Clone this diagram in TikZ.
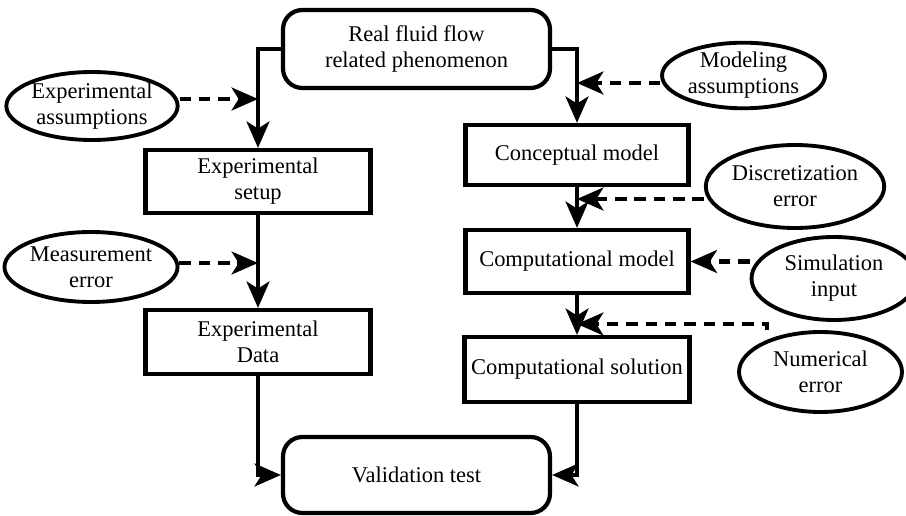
\documentclass[tikz,border=0pt]{standalone}
\usepackage{fontspec}
\setmainfont{Liberation Serif}
\usetikzlibrary{arrows.meta,shapes.geometric}
\tikzset{
  box/.style={draw, line width=2.4pt, align=center, inner sep=0pt},
  rbox/.style={box, rounded corners=11pt},
  oval/.style={ellipse, draw, line width=2.2pt, align=center, inner sep=0pt},
  flow/.style={line width=2.4pt, -{Stealth[length=15pt,width=13pt,inset=4pt]}},
  hint/.style={flow, dash pattern=on 6.5pt off 4.5pt},
}
\begin{document}
\begin{tikzpicture}[x=0.02cm, y=-0.02cm, font=\fontsize{12.8}{14.8}\selectfont]
\useasboundingbox (0,0) rectangle (906,516);
\node[rbox, minimum width=5.34cm, minimum height=1.56cm] (real) at (416.5,49) {Real fluid flow\\related phenomenon};
\node[box, minimum width=4.5cm, minimum height=1.26cm] (setup) at (258,181.5) {Experimental\\setup};
\node[box, minimum width=4.5cm, minimum height=1.28cm] (data) at (258,342) {Experimental\\Data};
\node[rbox, minimum width=5.34cm, minimum height=1.52cm] (valid) at (416.5,475) {Validation test};
\node[box, minimum width=4.46cm, minimum height=1.2cm] (concept) at (577,155) {Conceptual model};
\node[box, minimum width=4.46cm, minimum height=1.26cm] (compmod) at (577,261.5) {Computational model};
\node[box, minimum width=4.5cm, minimum height=1.3cm] (compsol) at (577,369.5) {Computational solution};
\node[oval, minimum width=3.24cm, minimum height=1.36cm] (expass) at (92,106) {Experimental\\assumptions};
\node[oval, minimum width=3.22cm, minimum height=1.4cm] (meas) at (91,267) {Measurement\\error};
\node[oval, minimum width=3.26cm, minimum height=1.3cm] (modass) at (743.5,75.5) {Modeling\\assumptions};
\node[oval, minimum width=3.28cm, minimum height=1.66cm] (disc) at (795,186.5) {Discretization\\error};
\node[oval, minimum width=3.3cm, minimum height=1.66cm] (siminp) at (834,278.5) {Simulation\\input};
\node[oval, minimum width=3.26cm, minimum height=1.6cm] (numerr) at (820.5,372) {Numerical\\error};
\coordinate (ea) at (258,99);\coordinate (ma) at (258,263);\coordinate (mda) at (577,83);\coordinate (da) at (577,199);\coordinate (na) at (577,324);
\draw[flow] (real.west) -| (setup.north);\draw[flow] (real.east) -| (concept.north);
\draw[flow] (setup.south) -- (data.north);\draw[flow] (data.south) |- (valid.west);
\draw[flow] (concept.south) -- (compmod.north);\draw[flow] (compmod.south) -- (compsol.north);\draw[flow] (compsol.south) |- (valid.east);
\draw[hint] (expass.east |- ea) -- (ea);\draw[hint] (meas.east |- ma) -- (ma);
\draw[hint] (modass.west |- mda) -- (mda);\draw[hint] (disc.west |- da) -- (da);
\draw[hint] (siminp.west |- compmod.east) -- (compmod.east);
\draw[hint] ([xshift=-1.07cm]numerr.north) |- (na);
\end{tikzpicture}
\end{document}
